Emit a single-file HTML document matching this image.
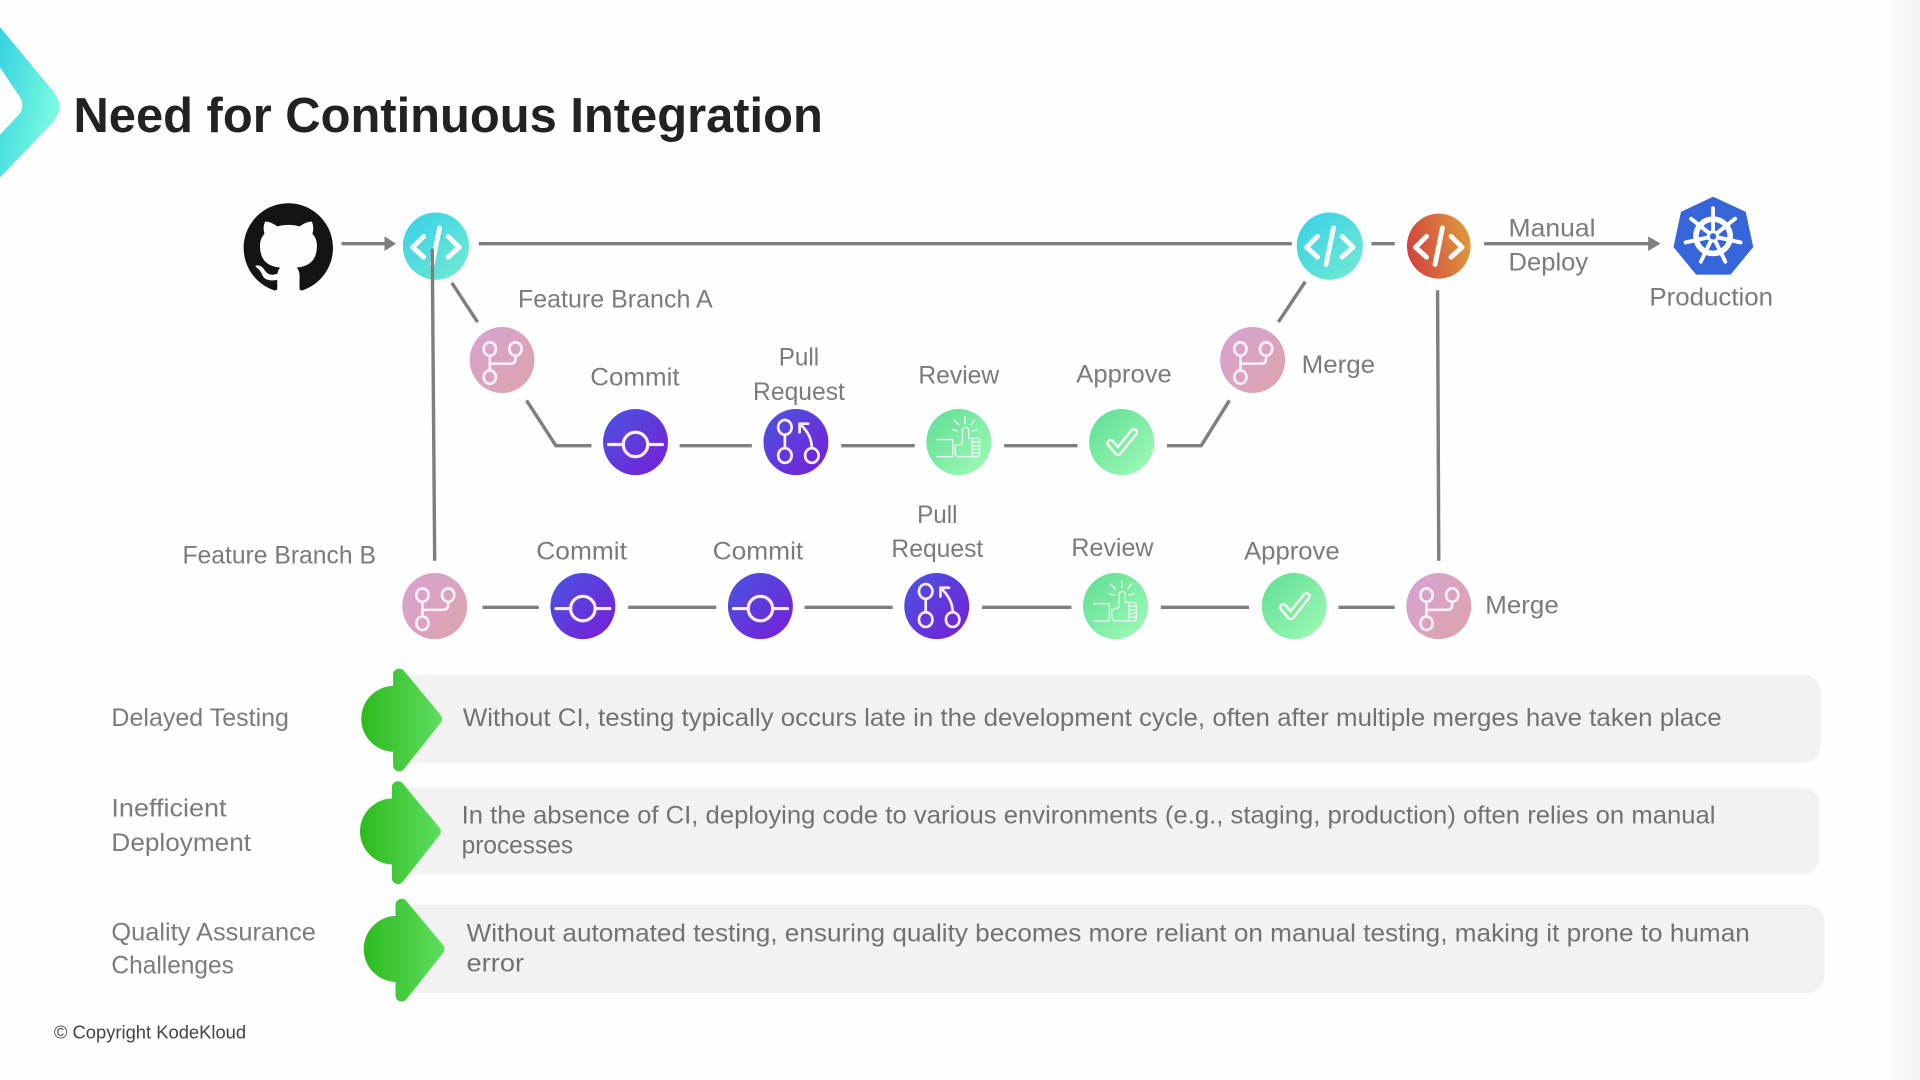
<!DOCTYPE html>
<html lang="en">
<head>
<meta charset="utf-8">
<title>Need for Continuous Integration</title>
<style>
html,body{margin:0;padding:0;width:1920px;height:1080px;overflow:hidden;background:#fefefe}
svg{display:block;filter:blur(.35px)}
text{font-family:"Liberation Sans",sans-serif;font-size:20.5px;fill:#7b7b7b}
.p{fill:#727272}
.l{stroke:#7f7f7f;stroke-width:2.8;fill:none}
.ic{fill:none;stroke:#fbeefa;stroke-width:2.2;stroke-linecap:round;stroke-linejoin:round}
</style>
</head>
<body>
<svg width="1920" height="1080" viewBox="0 0 1568 882" xmlns="http://www.w3.org/2000/svg">
<defs>
<linearGradient id="edge" x1="0" x2="1" y1="0" y2="0"><stop offset="0" stop-color="#fefefe"/><stop offset="1" stop-color="#f3f3f3"/></linearGradient>
<linearGradient id="chev" x1="0" y1="0.1" x2="1" y2="0.6"><stop offset="0" stop-color="#38d3e2"/><stop offset="1" stop-color="#7dfddf"/></linearGradient>
<linearGradient id="cy" x1="0.1" y1="0.1" x2="0.9" y2="0.9"><stop offset="0" stop-color="#3bd2e6"/><stop offset="1" stop-color="#6fe8d4"/></linearGradient>
<linearGradient id="or" x1="0" y1="0.6" x2="1" y2="0.4"><stop offset="0" stop-color="#d2413f"/><stop offset="1" stop-color="#dc9a3c"/></linearGradient>
<linearGradient id="pk" x1="0.1" y1="0.1" x2="0.9" y2="0.9"><stop offset="0" stop-color="#d6a3cf"/><stop offset="1" stop-color="#dda3ae"/></linearGradient>
<linearGradient id="pu" x1="0.1" y1="0.1" x2="0.9" y2="0.9"><stop offset="0" stop-color="#4d50e0"/><stop offset="1" stop-color="#7422d8"/></linearGradient>
<linearGradient id="gr" x1="0.1" y1="0.1" x2="0.9" y2="0.9"><stop offset="0" stop-color="#64e096"/><stop offset="1" stop-color="#9bf8b4"/></linearGradient>
<linearGradient id="ga" gradientUnits="userSpaceOnUse" x1="-33" y1="0" x2="33" y2="0"><stop offset="0" stop-color="#2dbb1e"/><stop offset="1" stop-color="#5fdd60"/></linearGradient>

<g id="code"><path class="ic" style="stroke:#fbfbfb;stroke-width:4" d="M-10,-8 L-19,1 L-10,9 M10,-8 L19,1 L10,9"/><path class="ic" style="stroke:#f4fbfb;stroke-width:4" d="M3,-15 L-3,15"/></g>
<g id="merge"><ellipse cx="-10" cy="-9" rx="5" ry="5.5" class="ic"/><ellipse cx="11" cy="-9" rx="5" ry="5.5" class="ic"/><ellipse cx="-10" cy="14" rx="5" ry="5.5" class="ic"/><path class="ic" d="M-10,-3.5 V8.5 M-10,3 H7 Q11,3 11,-1 V-3.5"/></g>
<g id="commit"><circle cx="0" cy="2" r="10" class="ic" style="stroke-width:2.6"/><path class="ic" style="stroke-width:2.6" d="M-22,2 H-10 M10,2 H22"/></g>
<g id="pr"><ellipse cx="-9" cy="-12" rx="5.5" ry="6" class="ic"/><ellipse cx="-9" cy="11" rx="5.5" ry="6" class="ic"/><ellipse cx="13" cy="11" rx="5.5" ry="6" class="ic"/><path class="ic" d="M-9,-6 V5 M13,5 Q13,-6 3,-15 M3,-15 V-8 M3,-15 H10"/></g>
<g id="review"><g class="ic" style="stroke-width:1.1;stroke:#eafdf0"><path d="M-18,-2 H-5 V12 H-18 M-3,7 L-3,3 L3,1 L3,-11 Q6,-13 8,-11 L8,-3 H16 Q17,-3 17,-1 V10 Q17,12 15,12 H-1 L-3,10 Z M11,0 H17 M11,3 H17 M11,6 H17 M11,9 H17 M11,-3 V12"/><path d="M5,-15 V-21 M0,-14 L-4,-18 M10,-14 L13,-18 M-1,-9 L-5,-10 M11,-9 L15,-10"/></g></g>
<g id="approve"><path fill="none" stroke="#fff" stroke-opacity=".95" stroke-width="7" stroke-linecap="round" stroke-linejoin="round" d="M-9,1 L-3,8 L10,-8"/><path fill="none" stroke="#7dec9f" stroke-width="3" stroke-linecap="round" stroke-linejoin="round" d="M-9,1 L-3,8 L10,-8"/></g>
<g id="green"><circle cx="-6" cy="0" r="27" fill="url(#ga)"/><path d="M-2,-36 L28,0 L-2,38 Z" fill="url(#ga)" stroke="url(#ga)" stroke-width="10" stroke-linejoin="round"/></g>
</defs>

<rect width="1568" height="882" fill="#fefefe"/>
<rect x="1535" y="0" width="33" height="882" fill="url(#edge)"/>

<!-- Title -->
<path d="M0,22 L43,74 Q54,87 43,100 L0,145 L0,110 L15,94 Q21,87 16,79 L0,55 Z" fill="url(#chev)"/>
<text x="60" y="108" textLength="612" lengthAdjust="spacingAndGlyphs" style="font-size:40px;font-weight:bold;fill:#222">Need for Continuous Integration</text>

<!-- GitHub -->
<g transform="translate(199,166) scale(4.56)"><path fill="#151313" d="M8 0C3.58 0 0 3.58 0 8c0 3.54 2.29 6.53 5.47 7.59.4.07.55-.17.55-.38 0-.19-.01-.82-.01-1.49-2.01.37-2.53-.49-2.69-.94-.09-.23-.48-.94-.82-1.13-.28-.15-.68-.52-.01-.53.63-.01 1.08.58 1.23.82.72 1.21 1.87.87 2.33.66.07-.52.28-.87.51-1.07-1.78-.2-3.64-.89-3.64-3.95 0-.87.31-1.59.82-2.15-.08-.2-.36-1.02.08-2.12 0 0 .67-.21 2.2.82.64-.18 1.32-.27 2-.27.68 0 1.36.09 2 .27 1.53-1.04 2.2-.82 2.2-.82.44 1.1.16 1.92.08 2.12.51.56.82 1.27.82 2.15 0 3.07-1.87 3.75-3.65 3.95.29.25.54.73.54 1.48 0 1.07-.01 1.93-.01 2.2 0 .21.15.46.55.38A8.013 8.013 0 0016 8c0-4.42-3.58-8-8-8z"/></g>

<!-- Circles -->
<ellipse cx="356" cy="201" rx="27" ry="27.5" fill="url(#cy)"/><use href="#code" x="356" y="201"/>
<ellipse cx="1086" cy="201" rx="27" ry="27.5" fill="url(#cy)"/><use href="#code" x="1086" y="201"/>
<ellipse cx="1175" cy="201" rx="26" ry="26.5" fill="url(#or)"/><use href="#code" x="1175" y="201"/>

<ellipse cx="410" cy="294" rx="26.5" ry="27" fill="url(#pk)"/><use href="#merge" x="410" y="294"/>
<ellipse cx="1023" cy="294" rx="26.5" ry="27" fill="url(#pk)"/><use href="#merge" x="1023" y="294"/>
<ellipse cx="355" cy="495" rx="26.5" ry="27" fill="url(#pk)"/><use href="#merge" x="355" y="495"/>
<ellipse cx="1175" cy="495" rx="26.5" ry="27" fill="url(#pk)"/><use href="#merge" x="1175" y="495"/>

<ellipse cx="519" cy="361" rx="26.5" ry="27" fill="url(#pu)"/><use href="#commit" x="519" y="361"/>
<ellipse cx="476" cy="495" rx="26.5" ry="27" fill="url(#pu)"/><use href="#commit" x="476" y="495"/>
<ellipse cx="621" cy="495" rx="26.5" ry="27" fill="url(#pu)"/><use href="#commit" x="621" y="495"/>

<ellipse cx="650" cy="361" rx="26.5" ry="27" fill="url(#pu)"/><use href="#pr" x="650" y="361"/>
<ellipse cx="765" cy="495" rx="26.5" ry="27" fill="url(#pu)"/><use href="#pr" x="765" y="495"/>

<ellipse cx="783" cy="361" rx="26.5" ry="27" fill="url(#gr)"/><use href="#review" x="783" y="361"/>
<ellipse cx="911" cy="495" rx="26.5" ry="27" fill="url(#gr)"/><use href="#review" x="911" y="495"/>

<ellipse cx="916" cy="361" rx="26.5" ry="27" fill="url(#gr)"/><use href="#approve" x="916" y="361"/>
<ellipse cx="1057" cy="495" rx="26.5" ry="27" fill="url(#gr)"/><use href="#approve" x="1057" y="495"/>

<!-- Kubernetes -->
<path d="M1399,161.5 L1425,173.5 L1431,201.5 L1413,223.5 L1385.5,223.5 L1367.5,201.5 L1373.5,173.5 Z" fill="#3565d8" stroke="#3565d8" stroke-width="1.5" stroke-linejoin="round"/>
<circle cx="1399" cy="193" r="14" fill="none" stroke="#fff" stroke-width="4.6"/>
<g stroke="#fff" stroke-width="3.2" stroke-linecap="round">
<path d="M1399,193 L1399,170 M1399,193 L1417,178.6 M1399,193 L1421.4,198 M1399,193 L1409,213.7 M1399,193 L1389,213.7 M1399,193 L1376.6,198 M1399,193 L1381,178.6"/>
</g>
<circle cx="1399" cy="193" r="5" fill="#fff"/><circle cx="1399" cy="193" r="2.6" fill="#3565d8"/>

<!-- Connectors -->
<path class="l" d="M279,199 H315"/><path d="M314,193 L323.5,199 L314,205 Z" fill="#7f7f7f"/>
<path class="l" d="M391,199 H1055 M1120,199 H1139 M1212,199 H1347"/><path d="M1346,193 L1356,199 L1346,205 Z" fill="#7f7f7f"/>
<path class="l" d="M369,231 L390,263 M1044,263 L1066,230 M353,203 L355,458 M1174,237 L1175,458"/>
<path class="l" d="M430,327 L454,364 H483 M555,364 H614 M687,364 H747 M820,364 H880 M953,364 H981 L1004,327"/>
<path class="l" d="M394,496 H440 M513,496 H585 M657,496 H729 M802,496 H875 M948,496 H1020 M1093,496 H1139"/>

<!-- Diagram labels -->
<text x="423" y="251" textLength="159" lengthAdjust="spacingAndGlyphs">Feature Branch A</text>
<text x="482" y="315" textLength="73" lengthAdjust="spacingAndGlyphs">Commit</text>
<text x="636" y="298.5" textLength="33" lengthAdjust="spacingAndGlyphs">Pull</text>
<text x="615" y="326.5" textLength="75" lengthAdjust="spacingAndGlyphs">Request</text>
<text x="750" y="313" textLength="66" lengthAdjust="spacingAndGlyphs">Review</text>
<text x="879" y="312.5" textLength="78" lengthAdjust="spacingAndGlyphs">Approve</text>
<text x="1063" y="304.5" textLength="60" lengthAdjust="spacingAndGlyphs">Merge</text>
<text x="1232" y="193" textLength="71" lengthAdjust="spacingAndGlyphs">Manual</text>
<text x="1232" y="221" textLength="65" lengthAdjust="spacingAndGlyphs">Deploy</text>
<text x="1347" y="249.5" textLength="101" lengthAdjust="spacingAndGlyphs">Production</text>
<text x="149" y="460" textLength="158" lengthAdjust="spacingAndGlyphs">Feature Branch B</text>
<text x="438" y="457" textLength="74" lengthAdjust="spacingAndGlyphs">Commit</text>
<text x="582" y="457" textLength="74" lengthAdjust="spacingAndGlyphs">Commit</text>
<text x="749" y="427" textLength="33" lengthAdjust="spacingAndGlyphs">Pull</text>
<text x="728" y="455" textLength="75" lengthAdjust="spacingAndGlyphs">Request</text>
<text x="875" y="454" textLength="67" lengthAdjust="spacingAndGlyphs">Review</text>
<text x="1016" y="457" textLength="78" lengthAdjust="spacingAndGlyphs">Approve</text>
<text x="1213" y="501" textLength="60" lengthAdjust="spacingAndGlyphs">Merge</text>

<!-- Panels -->
<rect x="320" y="551" width="1167" height="72" rx="14" fill="#f2f2f2"/>
<rect x="320" y="643" width="1166" height="71" rx="14" fill="#f2f2f2"/>
<rect x="322" y="739" width="1168" height="72" rx="14" fill="#f2f2f2"/>
<use href="#green" x="328" y="587"/>
<use href="#green" x="327" y="679"/>
<use href="#green" x="330" y="775"/>

<text x="91" y="593" textLength="145" lengthAdjust="spacingAndGlyphs">Delayed Testing</text>
<text x="91" y="667" textLength="94" lengthAdjust="spacingAndGlyphs">Inefficient</text>
<text x="91" y="695" textLength="114" lengthAdjust="spacingAndGlyphs">Deployment</text>
<text x="91" y="768" textLength="167" lengthAdjust="spacingAndGlyphs">Quality Assurance</text>
<text x="91" y="795" textLength="100" lengthAdjust="spacingAndGlyphs">Challenges</text>

<text class="p" x="378" y="593" textLength="1028" lengthAdjust="spacingAndGlyphs">Without CI, testing typically occurs late in the development cycle, often after multiple merges have taken place</text>
<text class="p" x="377" y="672.5" textLength="1024" lengthAdjust="spacingAndGlyphs">In the absence of CI, deploying code to various environments (e.g., staging, production) often relies on manual</text>
<text class="p" x="377" y="697" textLength="91" lengthAdjust="spacingAndGlyphs">processes</text>
<text class="p" x="381" y="769" textLength="1048" lengthAdjust="spacingAndGlyphs">Without automated testing, ensuring quality becomes more reliant on manual testing, making it prone to human</text>
<text class="p" x="381" y="793.5" textLength="47" lengthAdjust="spacingAndGlyphs">error</text>

<text x="44" y="848" textLength="157" lengthAdjust="spacingAndGlyphs" style="font-size:15px;fill:#444">© Copyright KodeKloud</text>
</svg>
</body>
</html>
